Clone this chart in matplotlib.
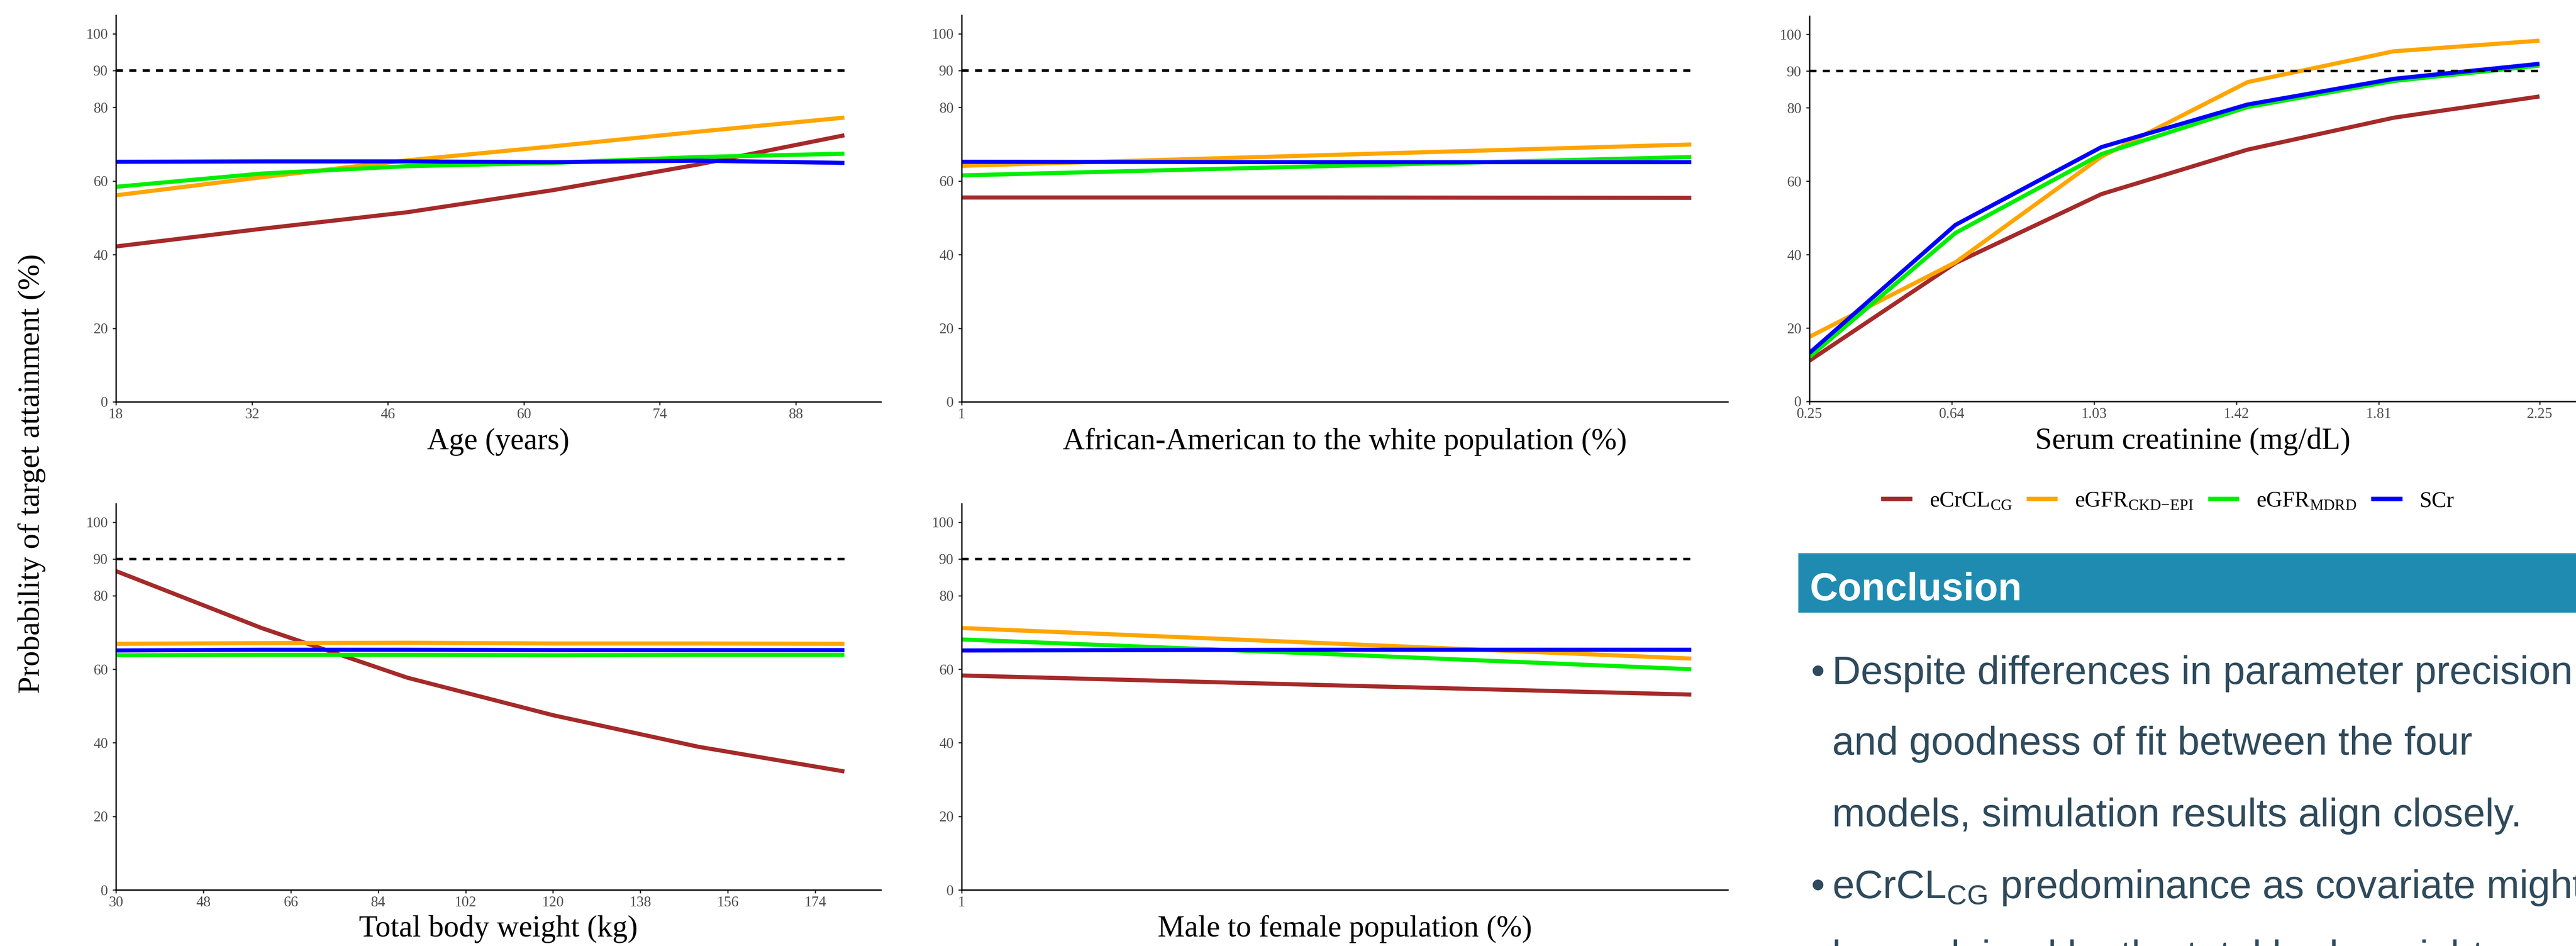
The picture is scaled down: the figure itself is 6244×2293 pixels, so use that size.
import matplotlib
matplotlib.use("Agg")
import matplotlib.pyplot as plt
from matplotlib.lines import Line2D
from matplotlib.patches import Rectangle

plt.rcParams['font.family'] = ['Liberation Serif', 'DejaVu Serif']
plt.rcParams['mathtext.fontset'] = 'custom'
plt.rcParams['mathtext.rm'] = 'Liberation Serif'
plt.rcParams['mathtext.sf'] = 'Liberation Sans'

# ---- data ----
model_names = [r"eCrCL$_{\mathrm{CG}}$", r"eGFR$_{\mathrm{CKD{-}EPI}}$", r"eGFR$_{\mathrm{MDRD}}$", "SCr"]
model_colors = ["#A52A2A", "#FFA500", "#00EE00", "#0000FF"]

age_x = [18, 33, 48, 63, 78, 93]
age_cg = [42.2, 47.0, 51.5, 57.5, 64.5, 72.4]
age_ckd = [56.1, 61.0, 65.6, 69.4, 73.4, 77.2]
age_mdrd = [58.4, 62.0, 64.0, 64.9, 66.5, 67.4]
age_scr = [65.2, 65.3, 65.3, 65.1, 65.5, 64.9]
age_ticks = [18, 32, 46, 60, 74, 88]

race_x = [1, 50, 100]
race_cg = [55.5, 55.5, 55.4]
race_ckd = [64.1, 67.0, 69.9]
race_mdrd = [61.5, 64.0, 66.5]
race_scr = [65.2, 65.1, 65.1]
race_ticks = [1]

scr_x = [0.25, 0.65, 1.05, 1.45, 1.85, 2.25]
scr_cg = [11.1, 37.7, 56.5, 68.6, 77.3, 83.1]
scr_ckd = [17.6, 37.9, 66.7, 87.0, 95.4, 98.3]
scr_mdrd = [12.1, 45.9, 67.4, 80.2, 87.3, 91.5]
scr_scr = [13.2, 48.1, 69.3, 80.9, 87.9, 92.0]
scr_ticks = [0.25, 0.64, 1.03, 1.42, 1.81, 2.25]
scr_ticklabels = ["0.25", "0.64", "1.03", "1.42", "1.81", "2.25"]

tbw_x = [30, 60, 90, 120, 150, 180]
tbw_cg = [86.7, 71.2, 57.7, 47.5, 38.9, 32.2]
tbw_ckd = [66.9, 67.1, 67.2, 67.0, 67.0, 66.9]
tbw_mdrd = [63.8, 63.9, 63.9, 63.8, 63.9, 63.9]
tbw_scr = [65.1, 65.3, 65.3, 65.2, 65.2, 65.2]
tbw_ticks = [30, 48, 66, 84, 102, 120, 138, 156, 174]

sex_x = [1, 50, 100]
sex_cg = [58.3, 55.7, 53.1]
sex_ckd = [71.2, 67.1, 62.9]
sex_mdrd = [68.1, 64.2, 60.0]
sex_scr = [65.1, 65.3, 65.3]
sex_ticks = [1]

y_ticks = [0, 20, 40, 60, 80, 90, 100]
target = 90

conclusion_lines = [
    ("bullet", "Despite differences in parameter precision"),
    ("cont", "and goodness of fit between the four"),
    ("cont", "models, simulation results align closely."),
    ("bullet", r"eCrCL$_{\mathsf{CG}}$ predominance as covariate might"),
    ("cont", "be explained by the total body weight"),
]

# ---- figure ----
W, H = 6244, 2293
DPI = 200
fig = plt.figure(figsize=(W / DPI, H / DPI), dpi=DPI)


def px_axes(x0, y0, x1, y1):
    return fig.add_axes([x0 / W, 1 - y1 / H, (x1 - x0) / W, (y1 - y0) / H])


def draw_panel(ax, x, series, ticks, xlabel, label_y, ticklabels=None):
    for vals, col in zip(series, model_colors):
        ax.plot(x, vals, color=col, lw=3.6, solid_capstyle='butt')
    ax.hlines(target, x[0], x[-1], colors='black', lw=2.2, linestyles=(0, (2.8, 2.5)))
    ax.set_xlim(x[0], x[-1] + 0.05 * (x[-1] - x[0]))
    ax.set_ylim(0, 105)
    ax.set_yticks(y_ticks)
    ax.set_xticks(ticks)
    if ticklabels is not None:
        ax.set_xticklabels(ticklabels)
    for s in ['top', 'right']:
        ax.spines[s].set_visible(False)
    for s in ['left', 'bottom']:
        ax.spines[s].set_linewidth(1.2)
    ax.tick_params(axis='both', length=2.9, width=1.1, color='#333333',
                   labelsize=12.8, labelcolor='#4D4D4D')
    ax.tick_params(axis='x', pad=2.5)
    ax.tick_params(axis='y', pad=4)
    ax.set_xlabel(xlabel, fontsize=26.5, va='baseline')
    ax.xaxis.set_label_coords(0.5, label_y)
    ax.patch.set_alpha(0)


ax1 = px_axes(281, 37, 2135, 974)
draw_panel(ax1, age_x, [age_cg, age_ckd, age_mdrd, age_scr], age_ticks,
           "Age (years)", -0.1227)

ax2 = px_axes(2331, 37, 4188, 974)
draw_panel(ax2, race_x, [race_cg, race_ckd, race_mdrd, race_scr], race_ticks,
           "African-American to the white population (%)", -0.1227)

ax3 = px_axes(4386, 39, 6244, 973)
draw_panel(ax3, scr_x, [scr_cg, scr_ckd, scr_mdrd, scr_scr], scr_ticks,
           "Serum creatinine (mg/dL)", -0.1227, scr_ticklabels)

ax4 = px_axes(281, 1221, 2135, 2157)
draw_panel(ax4, tbw_x, [tbw_cg, tbw_ckd, tbw_mdrd, tbw_scr], tbw_ticks,
           "Total body weight (kg)", -0.1207)

ax5 = px_axes(2331, 1221, 4188, 2157)
draw_panel(ax5, sex_x, [sex_cg, sex_ckd, sex_mdrd, sex_scr], sex_ticks,
           "Male to female population (%)", -0.1207)

# shared y label
fig.text(77 / W, 1 - 1148 / H, "Probability of target attainment (%)",
         rotation=90, ha='center', va='center', fontsize=26.9)

# legend under the creatinine panel
handles = [Line2D([], [], color=c, lw=4.0, solid_capstyle='butt') for c in model_colors]
fig.legend(handles, model_names, loc='center', bbox_to_anchor=(5254 / W, 1 - 1215 / H),
           ncol=4, frameon=False, fontsize=19.4, handlelength=1.4,
           handletextpad=0.78, columnspacing=0.65, borderpad=0, borderaxespad=0)

# conclusion box
fig.patches.append(Rectangle((4359 / W, 1 - 1485 / H), (W - 4359) / W, 144 / H,
                             transform=fig.transFigure, facecolor='#1F8BB0',
                             edgecolor='none', zorder=0))
fig.text(4386 / W, 1 - 1455 / H, "Conclusion", color='white', fontsize=34,
         fontweight='bold', family=['Liberation Sans', 'DejaVu Sans'], va='baseline')

text_col = '#2E4A5C'
baselines = [1658, 1829, 2003, 2177, 2347]
for (kind, line), yb in zip(conclusion_lines, baselines):
    if kind == "bullet":
        fig.text(4389 / W, 1 - yb / H, "\u2022", color=text_col, fontsize=34.5,
                 family=['Liberation Sans', 'DejaVu Sans'], va='baseline')
    fig.text(4441 / W, 1 - yb / H, line, color=text_col, fontsize=34.5,
             family=['Liberation Sans', 'DejaVu Sans'], va='baseline')

fig.savefig("out.png", dpi=DPI)
